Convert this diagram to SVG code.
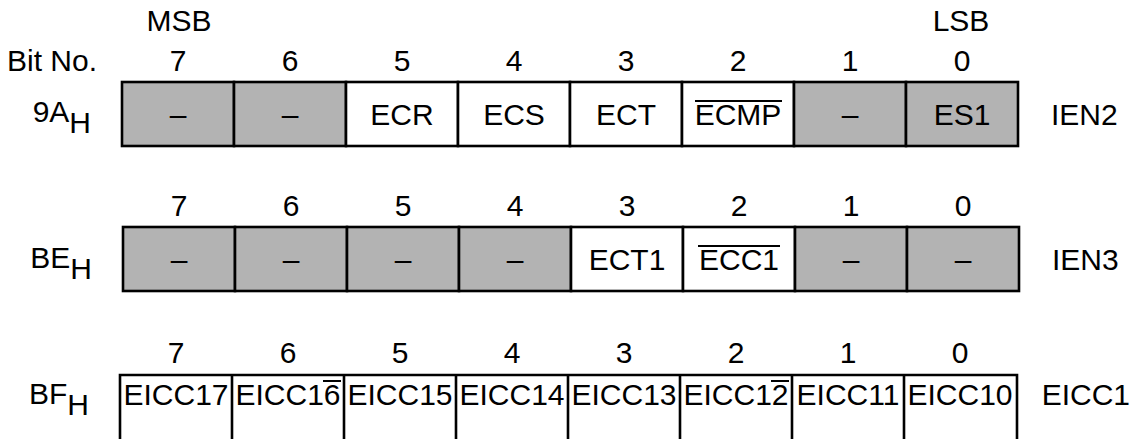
<svg xmlns="http://www.w3.org/2000/svg" width="1140" height="439" viewBox="0 0 1140 439">
<style>
text{font-family:"Liberation Sans",Arial,sans-serif;font-size:30px;fill:#000}
.c{text-anchor:middle}
.e{text-anchor:end}
.g{fill:#b3b3b3;stroke:#000;stroke-width:2.6}
.w{fill:#fff;stroke:#000;stroke-width:2.6}
.ln{stroke:#000;stroke-width:2.6;fill:none}
.ov{stroke:#000;stroke-width:2}
</style>
<rect width="1140" height="439" fill="#fff"/>
<g id="header">
<text class="c" x="179" y="31">MSB</text>
<text class="c" x="961" y="31">LSB</text>
<text x="7" y="71">Bit No.</text>
</g>
<g id="row-IEN2">
<g class="c">
<text x="178" y="71">7</text><text x="290" y="71">6</text><text x="402" y="71">5</text><text x="514" y="71">4</text><text x="626" y="71">3</text><text x="738" y="71">2</text><text x="850" y="71">1</text><text x="962" y="71">0</text>
</g>
<text class="e" x="91" y="122">9A<tspan dy="11">H</tspan></text>
<rect class="g" x="122" y="82" width="112" height="64"/>
<rect class="g" x="234" y="82" width="112" height="64"/>
<rect class="w" x="346" y="82" width="112" height="64"/>
<rect class="w" x="458" y="82" width="112" height="64"/>
<rect class="w" x="570" y="82" width="112" height="64"/>
<rect class="w" x="682" y="82" width="112" height="64"/>
<rect class="g" x="794" y="82" width="112" height="64"/>
<rect class="g" x="906" y="82" width="112" height="64"/>
<text class="c" x="178" y="125">–</text>
<text class="c" x="290" y="125">–</text>
<text class="c" x="402" y="125">ECR</text>
<text class="c" x="514" y="125">ECS</text>
<text class="c" x="626" y="125">ECT</text>
<text class="c" x="738" y="125">ECMP</text>
<line class="ov" x1="695" y1="101" x2="782" y2="101"/>
<text class="c" x="850" y="125">–</text>
<text class="c" x="962" y="125">ES1</text>
<text x="1051" y="125">IEN2</text>
</g>
<g id="row-IEN3">
<g class="c">
<text x="179" y="216">7</text><text x="291" y="216">6</text><text x="403" y="216">5</text><text x="515" y="216">4</text><text x="627" y="216">3</text><text x="739" y="216">2</text><text x="851" y="216">1</text><text x="963" y="216">0</text>
</g>
<text class="e" x="92" y="268">BE<tspan dy="11">H</tspan></text>
<rect class="g" x="123" y="227" width="112" height="64"/>
<rect class="g" x="235" y="227" width="112" height="64"/>
<rect class="g" x="347" y="227" width="112" height="64"/>
<rect class="g" x="459" y="227" width="112" height="64"/>
<rect class="w" x="571" y="227" width="112" height="64"/>
<rect class="w" x="683" y="227" width="112" height="64"/>
<rect class="g" x="795" y="227" width="112" height="64"/>
<rect class="g" x="907" y="227" width="112" height="64"/>
<text class="c" x="179" y="270">–</text>
<text class="c" x="291" y="270">–</text>
<text class="c" x="403" y="270">–</text>
<text class="c" x="515" y="270">–</text>
<text class="c" x="627" y="270">ECT1</text>
<text class="c" x="739" y="270">ECC1</text>
<line class="ov" x1="698" y1="246" x2="780" y2="246"/>
<text class="c" x="851" y="270">–</text>
<text class="c" x="963" y="270">–</text>
<text x="1052" y="270">IEN3</text>
</g>
<g id="row-EICC1">
<g class="c">
<text x="176" y="363">7</text><text x="288" y="363">6</text><text x="400" y="363">5</text><text x="512" y="363">4</text><text x="624" y="363">3</text><text x="736" y="363">2</text><text x="848" y="363">1</text><text x="960" y="363">0</text>
</g>
<text class="e" x="89" y="404">BF<tspan dy="11">H</tspan></text>
<path class="ln" d="M120,445V375H1017V445M232,375V445M344,375V445M456,375V445M568,375V445M680,375V445M792,375V445M904,375V445"/>
<text class="c" x="176" y="405">EICC17</text>
<text class="c" x="288" y="405">EICC16</text>
<line class="ov" x1="323" y1="381" x2="341" y2="381"/>
<text class="c" x="400" y="405">EICC15</text>
<text class="c" x="512" y="405">EICC14</text>
<text class="c" x="624" y="405">EICC13</text>
<text class="c" x="736" y="405">EICC12</text>
<line class="ov" x1="771" y1="381" x2="789" y2="381"/>
<text class="c" x="848" y="405">EICC11</text>
<text class="c" x="960" y="405">EICC10</text>
<text class="e" x="1130" y="405">EICC1</text>
</g>
</svg>
